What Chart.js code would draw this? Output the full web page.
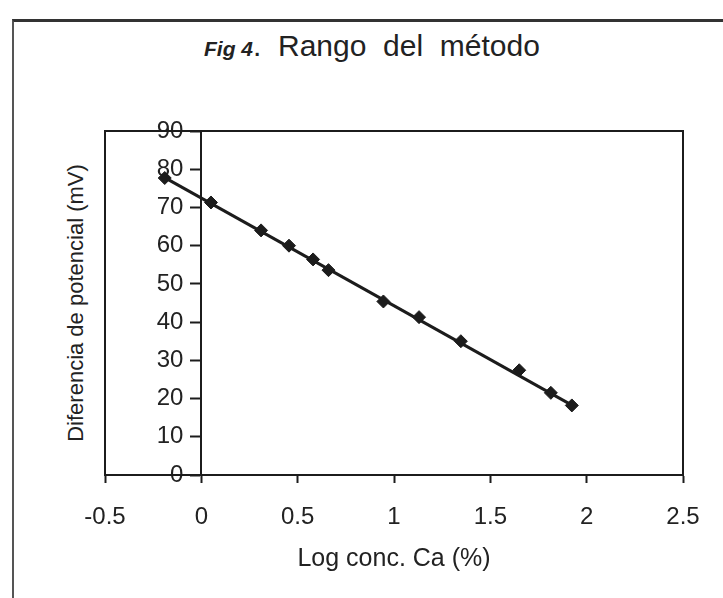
<!DOCTYPE html>
<html>
<head>
<meta charset="utf-8">
<script src="https://cdn.jsdelivr.net/npm/chart.js@4.4.0/dist/chart.umd.min.js"></script>
<style>
    html, body { margin: 0; padding: 0; background: #fff; }
    body { width: 723px; height: 598px; position: relative; overflow: hidden; font-family: "Liberation Sans", Arial, sans-serif; color: #222; }
    #frame { position: absolute; left: 12px; top: 19px; width: 800px; height: 700px; border-left: 2px solid #555; border-top: 3px solid #333; }
    #title { position: absolute; left: 204px; top: 29px; font-size: 30px; white-space: nowrap; }
    #title b { font-style: italic; font-size: 21px; }
    #ytitle { position: absolute; left: 76px; top: 303px; transform: translate(-50%, -50%) rotate(-90deg); white-space: nowrap; font-size: 22px; }
    #stock-chart { position: absolute; left: 0; top: 0; }
</style>
</head>
<body>
<div id="frame"></div>
<div id="title"><b>Fig 4</b>.&nbsp; Rango&nbsp; del&nbsp; método</div>
<div id="ytitle">Diferencia de potencial (mV)</div>
<canvas id="stock-chart" width="723" height="598"></canvas>
<script>
// values
let logConc = [-0.19, 0.05, 0.31, 0.455, 0.58, 0.66, 0.945, 1.13, 1.347, 1.65, 1.814, 1.923];
let potential = [77.7, 71.3, 64.0, 60.0, 56.4, 53.6, 45.4, 41.3, 35.0, 27.4, 21.5, 18.2];

// trend line ends
let fitX = [-0.19, 1.93];
let fitY = [77.8, 18.1];

let xTicks = [-0.5, 0, 0.5, 1, 1.5, 2, 2.5];
let xTickLabels = ['-0.5', '0', '0.5', '1', '1.5', '2', '2.5'];
let yTicks = [0, 10, 20, 30, 40, 50, 60, 70, 80, 90];

const ink = '#1c1c1c';

// box round the plot area (top + right sides)
const plotFrame = {
    id: 'plotFrame',
    beforeDatasetsDraw: function(chart){
        const a = chart.chartArea;
        const ctx = chart.ctx;
        ctx.save();
        ctx.strokeStyle = ink;
        ctx.lineWidth = 2;
        ctx.strokeRect(a.left, a.top, a.right - a.left, a.bottom - a.top);
        ctx.restore();
    }
};

// y axis sits at x = 0, chart.js puts its labels right on the line,
// so push them left of the tick marks
const yLabelShift = {
    id: 'yLabelShift',
    beforeDraw: function(chart){
        const yScale = chart.scales.y;
        const gap = yScale.options.grid.tickLength + yScale.options.ticks.padding;
        yScale.getLabelItems(chart.chartArea).forEach(item => {
            if (!item._shifted) {
                item.options.translation[0] -= gap;
                item._shifted = true;
            }
        });
    }
};

const ctx = document.querySelector('#stock-chart').getContext('2d');

let fitChart = new Chart(ctx, {
    type: 'scatter',
    data: {
        datasets: [
            {
                label: 'ajuste',
                data: fitX.map((x, i) => ({x: x, y: fitY[i]})),
                showLine: true,
                borderColor: ink,
                borderWidth: 3,
                pointRadius: 0
            },
            {
                label: 'datos',
                data: logConc.map((x, i) => ({x: x, y: potential[i]})),
                pointStyle: 'rectRot',
                pointRadius: 6.5,
                backgroundColor: ink,
                borderColor: ink,
                borderWidth: 1
            }
        ]
    },
    options: {
        responsive: false,
        animation: false,
        layout: {
            padding: {left: 105, right: 40, top: 131, bottom: 0}
        },
        plugins: {
            legend: { display: false },
            tooltip: { enabled: false }
        },
        scales: {
            x: {
                type: 'linear',
                min: -0.5,
                max: 2.5,
                afterBuildTicks: function(scale){
                    scale.ticks = xTicks.map(v => ({value: v}));
                },
                afterFit: function(scale){
                    scale.height = 598 - 475;
                },
                ticks: {
                    color: '#222',
                    padding: 20,
                    font: { family: 'Liberation Sans', size: 24 },
                    callback: function(value){
                        return xTickLabels[xTicks.indexOf(value)];
                    }
                },
                grid: {
                    drawOnChartArea: false,
                    tickLength: 8,
                    tickWidth: 2,
                    color: ink
                },
                border: { color: ink, width: 2 },
                title: {
                    display: true,
                    text: 'Log conc. Ca (%)',
                    color: '#222',
                    font: { family: 'Liberation Sans', size: 25 },
                    padding: {top: 0, bottom: 24}
                }
            },
            y: {
                type: 'linear',
                position: {x: 0},
                min: 0,
                max: 90,
                afterBuildTicks: function(scale){
                    scale.ticks = yTicks.map(v => ({value: v}));
                },
                ticks: {
                    color: '#222',
                    padding: 8,
                    font: { family: 'Liberation Sans', size: 24 }
                },
                grid: {
                    drawOnChartArea: false,
                    tickLength: 10,
                    tickWidth: 2,
                    color: ink
                },
                border: { color: ink, width: 2 }
            }
        }
    },
    plugins: [plotFrame, yLabelShift]
});
</script>
</body>
</html>
